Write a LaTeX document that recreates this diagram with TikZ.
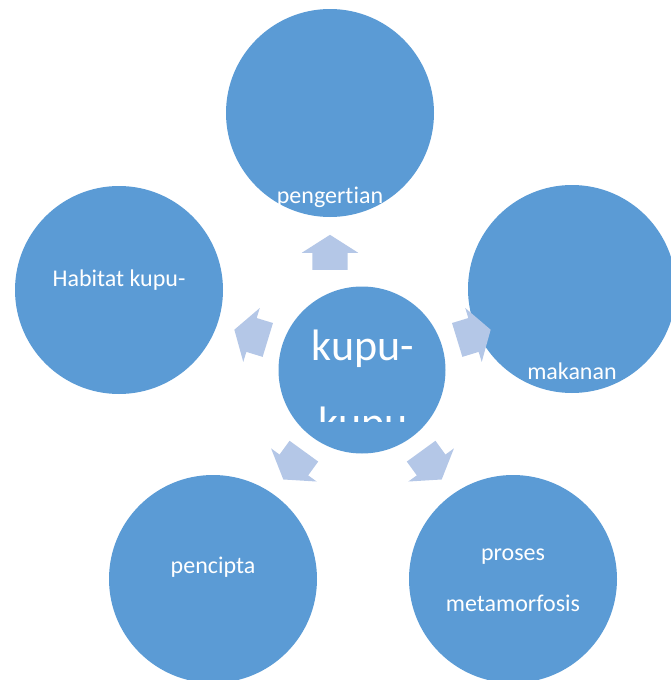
\documentclass[tikz,border=0pt]{standalone}
\usepackage{fontspec}
\setmainfont{Carlito}[Ligatures=NoCommon]
\usetikzlibrary{shapes, arrows}
\definecolor{bubbleBlue}{HTML}{5B9BD5}
\definecolor{arrowBlue}{HTML}{B4C7E7}
\tikzstyle{bubble} = [circle, fill=bubbleBlue, draw=none,
minimum size=208pt, inner sep=0pt]
\tikzstyle{hub} = [bubble, minimum size=167pt]
\tikzstyle{txt} = [text=white, anchor=base, inner sep=0pt,
font=\fontsize{24}{29}\selectfont]
\tikzstyle{bigtxt} = [txt, font=\fontsize{44}{53}\selectfont]
\tikzstyle{blockarrow} = [single arrow, fill=arrowBlue, draw=none,
minimum height=35pt, minimum width=56pt, inner xsep=0pt, inner ysep=17.5pt,
single arrow head extend=10.5pt, single arrow tip angle=115, anchor=tail]

\begin{document}
\begin{tikzpicture}[x=1pt, y=-1pt]
    \useasboundingbox (0,0) rectangle (671,680);
    \clip (0,0) rectangle (671,680);

    % We start by placing the circles
    \node [hub, name=kupu] at (362,370) {};
    \node [bubble, name=pengertian] at (330,113) {};
    \node [bubble, name=makanan] at (572,289) {};
    \node [bubble, name=habitat] at (119,290) {};
    \node [bubble, name=pencipta] at (213,579) {};
    \node [bubble, name=proses] at (513,579) {};

    % the block arrows going out of the centre
    \node [blockarrow, rotate=90] (aPengertian) at (330,270) {};
    \node [blockarrow, rotate=163] (aHabitat) at (268,340) {};
    \node [blockarrow, rotate=17] (aMakanan) at (457,340) {};
    \node [blockarrow, rotate=-126] (aPencipta) at (304,451) {};
    \node [blockarrow, rotate=-54] (aProses) at (421,451) {};

    % texts
    \node [bigtxt] (tKupu) at (363,360) {kupu-};
    \begin{scope}
        \clip (278,300) rectangle (446,421);
        \node [bigtxt] (tKupuTwo) at (363,437) {kupu};
    \end{scope}
    \node [txt] (tPengertian) at (330,203) {pengertian};
    \node [txt] (tMakanan) at (572,379) {makanan};
    \node [txt] (tHabitat) at (119,286) {Habitat kupu-};
    \node [txt] (tPencipta) at (213,573) {pencipta};
    \node [txt] (tProses) at (513,560) {proses};
    \node [txt] (tMetamorfosis) at (513,611) {metamorfosis};
\end{tikzpicture}
\end{document}
